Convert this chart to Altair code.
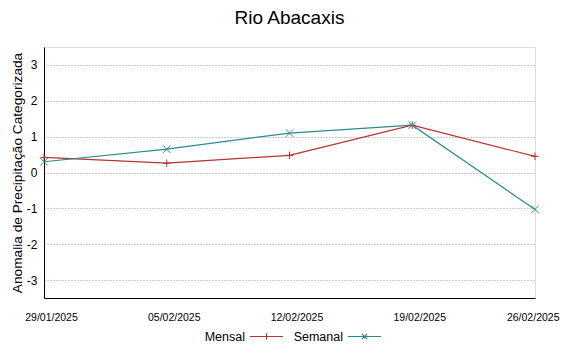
import altair as alt
import pandas as pd

dates = ["29/01/2025", "05/02/2025", "12/02/2025", "19/02/2025", "26/02/2025"]
mensal = [0.42, 0.26, 0.48, 1.32, 0.45]
semanal = [0.30, 0.65, 1.10, 1.32, -1.03]
series = ["Mensal", "Semanal"]
colors = ["#b8322f", "#2a8c8a"]
y_ticks = [-3, -2, -1, 0, 1, 2, 3]
chart_title = "Rio Abacaxis"
y_title = "Anomalia de Precipitação Categorizada"

rows = []
for s, vals in zip(series, [mensal, semanal]):
    for d, v in zip(dates, vals):
        rows.append({"data": d, "valor": v, "serie": s})
df = pd.DataFrame(rows)

FONT = "Liberation Sans"
marker_paths = ["M-1,0H1M0,-1V1", "M-1,-1L1,1M-1,1L1,-1"]
legend_paths = ["M-1,0H1M0,-0.2V0.2",
                "M-1,0H1M-0.16,-0.16L0.16,0.16M-0.16,0.16L0.16,-0.16"]
last_test = f"datum.value === '{dates[-1]}'"

x = alt.X(
    "data:N", sort=dates,
    scale=alt.Scale(type="point", padding=0),
    axis=alt.Axis(
        title=None, labelAngle=0, ticks=False, tickSize=0,
        domainColor="black", domainWidth=1,
        labelFont=FONT, labelFontSize=10.5, labelColor="black", labelPadding=14,
        labelAlign={"condition": {"test": last_test, "value": "right"}, "value": "center"},
        labelOffset={"condition": {"test": last_test, "value": 24}, "value": 7},
    ),
)

y = alt.Y(
    "valor:Q",
    scale=alt.Scale(domain=[-3.5, 3.5], nice=False, zero=False),
    axis=alt.Axis(
        title=y_title, values=y_ticks, labelExpr="'' + datum.value",
        grid=True, gridColor="#999999", gridDash=[1, 2], gridWidth=1,
        ticks=False, tickSize=0, labelPadding=7,
        labelFont=FONT, labelFontSize=12, labelColor="black",
        domainColor="black", domainWidth=1,
        titleFont=FONT, titleFontSize=13.7, titleFontWeight="normal", titleColor="black",
        titleAngle=270, titleX=-27, titleY=125.5, titleBaseline="middle", titleAlign="center",
    ),
)

legend = alt.Legend(
    title=None, orient="none", legendX=205, legendY=272, direction="horizontal",
    symbolSize=1089, symbolStrokeWidth=1.2, symbolOpacity=1, symbolFillColor="transparent",
    columnPadding=7, padding=0,
    labelFont=FONT, labelFontSize=12.5, labelColor="black",
    labelAlign="right", labelOffset={"expr": "-39"},
)

color = alt.Color("serie:N", scale=alt.Scale(domain=series, range=colors), legend=legend)

base = alt.Chart(df)

# legend carrier: draws nothing, supplies the merged colour+shape legend
proxy = base.transform_filter("false").mark_point(filled=False).encode(
    x=x, y=y, color=color,
    shape=alt.Shape("serie:N", scale=alt.Scale(domain=series, range=legend_paths), legend=legend),
)

lines = base.mark_line(strokeWidth=1.2).encode(x=x, y=y, color=color, detail="serie:N")

marks = []
for s, path in zip(series, marker_paths):
    marks.append(
        base.transform_filter(alt.datum.serie == s)
        .mark_point(filled=False, size=56, strokeWidth=1, opacity=1, shape=path)
        .encode(x=x, y=y, color=color)
    )

chart = alt.layer(proxy, lines, *marks).properties(
    width=491, height=251,
    title=alt.Title(chart_title, fontSize=19, font=FONT, fontWeight="normal", color="black",
                    anchor="middle", frame="group", offset=4, baseline="alphabetic"),
    padding={"left": 36, "top": 39, "right": 25, "bottom": 45},
    autosize=alt.AutoSizeParams(type="none"),
).configure_view(stroke="#888888", strokeWidth=2).configure(font=FONT, background="white")

chart.save("out.html", embed_options={"renderer": "svg", "actions": False})
